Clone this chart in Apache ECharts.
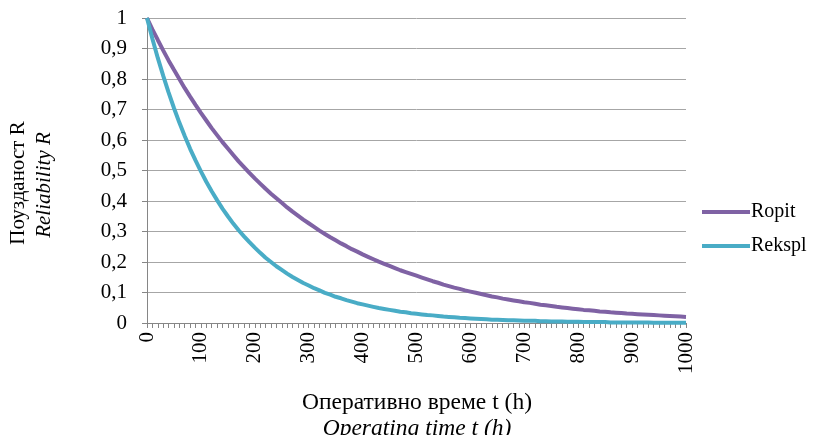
<!DOCTYPE html>
<html>
<head>
<meta charset="utf-8">
<script src="https://cdn.jsdelivr.net/npm/echarts@6/dist/echarts.min.js"></script>
<style>
html,body{margin:0;padding:0;background:#fff;}
#chart{width:819px;height:435px;}
</style>
</head>
<body>
<div id="chart"></div>
<script>
// Operating time t (h), every 10 h
var categories = [0,10,20,30,40,50,60,70,80,90,100,110,120,130,140,150,160,170,180,190,200,210,220,230,240,250,260,270,280,290,300,310,320,330,340,350,360,370,380,390,400,410,420,430,440,450,460,470,480,490,500,510,520,530,540,550,560,570,580,590,600,610,620,630,640,650,660,670,680,690,700,710,720,730,740,750,760,770,780,790,800,810,820,830,840,850,860,870,880,890,900,910,920,930,940,950,960,970,980,990,1000];
var ropit = [1.000,0.963,0.928,0.894,0.861,0.830,0.800,0.770,0.742,0.715,0.689,0.664,0.639,0.616,0.593,0.572,0.551,0.530,0.511,0.492,0.474,0.457,0.440,0.424,0.409,0.394,0.379,0.365,0.352,0.339,0.327,0.315,0.303,0.292,0.281,0.271,0.261,0.252,0.242,0.234,0.225,0.217,0.209,0.201,0.194,0.187,0.180,0.173,0.167,0.161,0.155,0.149,0.143,0.137,0.132,0.126,0.121,0.116,0.112,0.107,0.103,0.099,0.095,0.091,0.087,0.084,0.080,0.077,0.074,0.071,0.068,0.066,0.063,0.060,0.058,0.056,0.053,0.051,0.049,0.047,0.045,0.043,0.042,0.040,0.038,0.037,0.035,0.034,0.033,0.031,0.030,0.029,0.028,0.027,0.026,0.025,0.024,0.023,0.022,0.021,0.020];
var rekspl = [1.000,0.932,0.869,0.811,0.756,0.705,0.657,0.613,0.571,0.533,0.497,0.463,0.432,0.403,0.375,0.350,0.326,0.304,0.284,0.265,0.247,0.230,0.214,0.200,0.186,0.174,0.162,0.151,0.141,0.131,0.123,0.114,0.107,0.099,0.093,0.086,0.081,0.075,0.070,0.065,0.061,0.057,0.053,0.049,0.046,0.043,0.040,0.037,0.035,0.032,0.030,0.028,0.026,0.025,0.023,0.021,0.020,0.019,0.017,0.016,0.015,0.014,0.013,0.012,0.011,0.011,0.010,0.009,0.009,0.008,0.007,0.007,0.007,0.006,0.006,0.005,0.005,0.005,0.004,0.004,0.004,0.003,0.003,0.003,0.003,0.003,0.002,0.002,0.002,0.002,0.002,0.002,0.002,0.002,0.001,0.001,0.001,0.001,0.001,0.001,0.001];
var seriesNames = ['Ropit', 'Rekspl'];
var yTitle = ['Поузданост R', 'Reliability R'];
var xTitle = ['Оперативно време t (h)', 'Operating time t (h)'];

var FONT = 'Liberation Serif';
var chart = echarts.init(document.getElementById('chart'), null, {renderer: 'canvas'});
chart.setOption({
  animation: false,
  backgroundColor: '#ffffff',
  textStyle: {fontFamily: FONT},
  grid: {left: 147, right: 133, top: 18, bottom: 112, containLabel: false},
  legend: {
    orient: 'vertical', left: 697, top: 197, itemGap: 14,
    icon: 'rect', itemWidth: 48, itemHeight: 4,
    textStyle: {fontFamily: FONT, fontSize: 20, color: '#000', padding: [0,0,0,-4]},
    data: seriesNames
  },
  xAxis: {
    type: 'category', data: categories, boundaryGap: false,
    axisLine: {lineStyle: {color: '#868686', width: 1}},
    axisTick: {show: true, interval: 0, length: 5, lineStyle: {color: '#868686'}},
    axisLabel: {interval: 9, rotate: 90, margin: 9, fontFamily: FONT, fontSize: 21, color: '#000'},
    splitLine: {show: false}
  },
  yAxis: {
    type: 'value', min: 0, max: 1, interval: 0.1,
    axisLine: {show: true, lineStyle: {color: '#868686', width: 1}},
    axisTick: {show: true, length: 5, lineStyle: {color: '#868686'}},
    axisLabel: {margin: 20, fontFamily: FONT, fontSize: 21, color: '#000',
      formatter: function (v) { return (Math.round(v * 10) / 10).toString().replace('.', ','); }},
    splitLine: {lineStyle: {color: '#a6a6a6', width: 1}}
  },
  graphic: [
    {type: 'text', x: 18, y: 183, rotation: Math.PI / 2,
     style: {text: yTitle[0], fontFamily: FONT, fontSize: 21, fill: '#000', align: 'center', verticalAlign: 'middle'}},
    {type: 'text', x: 44, y: 185, rotation: Math.PI / 2,
     style: {text: yTitle[1], fontFamily: FONT, fontSize: 21, fontStyle: 'italic', fill: '#000', align: 'center', verticalAlign: 'middle'}},
    {type: 'text', x: 417, y: 403,
     style: {text: xTitle[0], fontFamily: FONT, fontSize: 23.5, fill: '#000', align: 'center', verticalAlign: 'middle'}},
    {type: 'text', x: 417, y: 429,
     style: {text: xTitle[1], fontFamily: FONT, fontSize: 23.5, fontStyle: 'italic', fill: '#000', align: 'center', verticalAlign: 'middle'}}
  ],
  series: [
    {name: seriesNames[0], type: 'line', data: ropit, symbol: 'none', smooth: false,
     lineStyle: {color: '#7f62a4', width: 4}, itemStyle: {color: '#7f62a4'}},
    {name: seriesNames[1], type: 'line', data: rekspl, symbol: 'none', smooth: false,
     lineStyle: {color: '#49acc6', width: 4}, itemStyle: {color: '#49acc6'}}
  ]
});
</script>
</body>
</html>
